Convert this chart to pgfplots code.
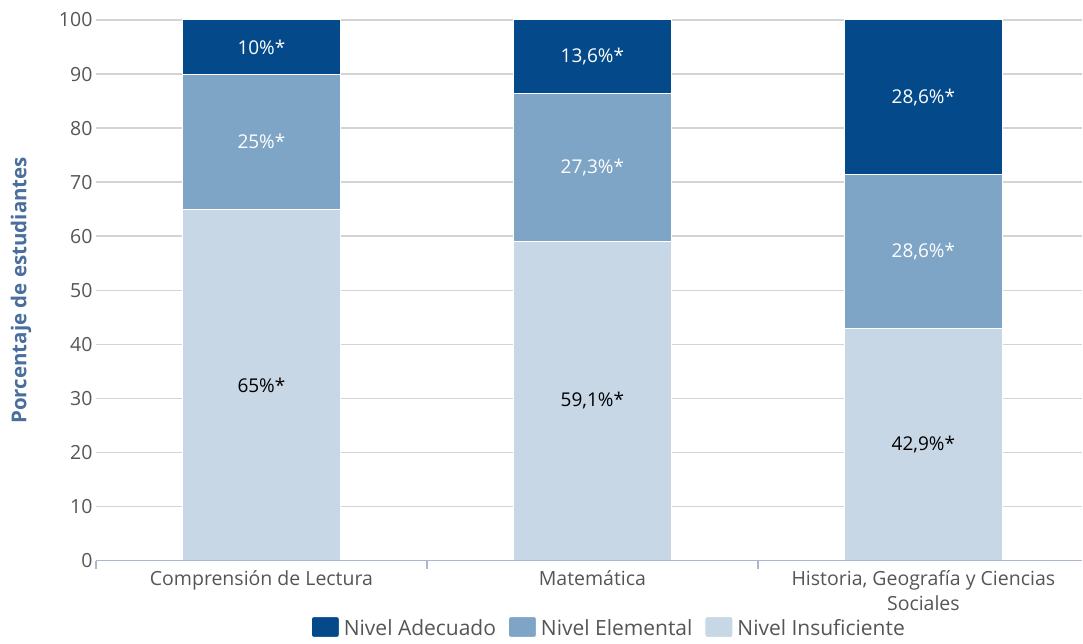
\documentclass[border=0pt]{standalone}
\usepackage{pgfplots}
\pgfplotsset{compat=1.18}
\usepackage{fontspec}
\setmainfont{Open Sans}
\definecolor{cAde}{HTML}{044A8B}
\definecolor{cEle}{HTML}{7EA5C5}
\definecolor{cIns}{HTML}{C8D7E6}
\definecolor{cGrid}{HTML}{D4D4D4}
\definecolor{cTxt}{HTML}{555555}
\definecolor{cYlab}{HTML}{4A6F9C}
\definecolor{cAxis}{HTML}{A9B8CC}
\begin{document}
\begin{tikzpicture}
\begin{axis}[
    scale only axis,
    width=987pt, height=541pt,
    ybar stacked,
    bar width=0.477,
    xmin=-0.5, xmax=2.48,
    ymin=0, ymax=100,
    ytick={0,10,...,100},
    ymajorgrids,
    grid style={cGrid, line width=1.5pt},
    axis line style={draw=none},
    ytick style={draw=none},
    xtick={0,1,2},
    xticklabels={Comprensión de Lectura, Matemática, {Historia, Geografía y Ciencias\\Sociales}},
    x tick label style={align=center, text=cTxt, font=\fontsize{19.5}{25}\selectfont, yshift=-2pt},
    y tick label style={text=cTxt, font=\fontsize{19.5}{22}\selectfont},
    /pgf/number format/assume math mode=true,
    major x tick style={draw=none},
    minor xtick={-0.5,0.5,1.5},
    minor x tick style={cAxis, line width=1.5pt},
    xtick align=outside,
    minor tick length=8pt,
    xtick pos=bottom,
    ylabel={Porcentaje de estudiantes},
    every axis y label/.style={at={(axis description cs:-0.076,0.5)}, rotate=90, anchor=center,
        text=cYlab, font=\bfseries\fontsize{20.5}{23}\selectfont},
    legend style={at={(0.52,-0.124)}, anchor=center, draw=none, legend columns=-1,
        font=\fontsize{21}{24}\selectfont, text=cTxt,
        /tikz/every odd column/.append style={column sep=2pt},
        /tikz/every even column/.append style={column sep=10pt}},
    legend image code/.code={\fill[#1, rounded corners=2.5pt] (-2pt,-9pt) rectangle (26pt,12pt);},
    nodes near coords,
    point meta=explicit symbolic,
    every node near coord/.append style={anchor=center, font=\fontsize{19}{22}\selectfont},
    reverse legend,
]
\addplot[fill=cIns, draw=white, line width=1pt, every node near coord/.append style={text=black}]
    coordinates {(0,65) [65\%*] (1,59.1) [59,1\%*] (2,42.9) [42,9\%*]};
\addplot[fill=cEle, draw=white, line width=1pt, every node near coord/.append style={text=white}]
    coordinates {(0,25) [25\%*] (1,27.3) [27,3\%*] (2,28.6) [28,6\%*]};
\addplot[fill=cAde, draw=white, line width=1pt, every node near coord/.append style={text=white}]
    coordinates {(0,10) [10\%*] (1,13.6) [13,6\%*] (2,28.5) [28,6\%*]};
\legend{Nivel Insuficiente, Nivel Elemental, Nivel Adecuado}
\end{axis}
\draw[cAxis, line width=1.5pt] (current axis.south west) -- (current axis.south east);
\useasboundingbox ([xshift=-96pt,yshift=-83pt]current axis.south west) rectangle ([yshift=20pt]current axis.north east);
\end{tikzpicture}
\end{document}
